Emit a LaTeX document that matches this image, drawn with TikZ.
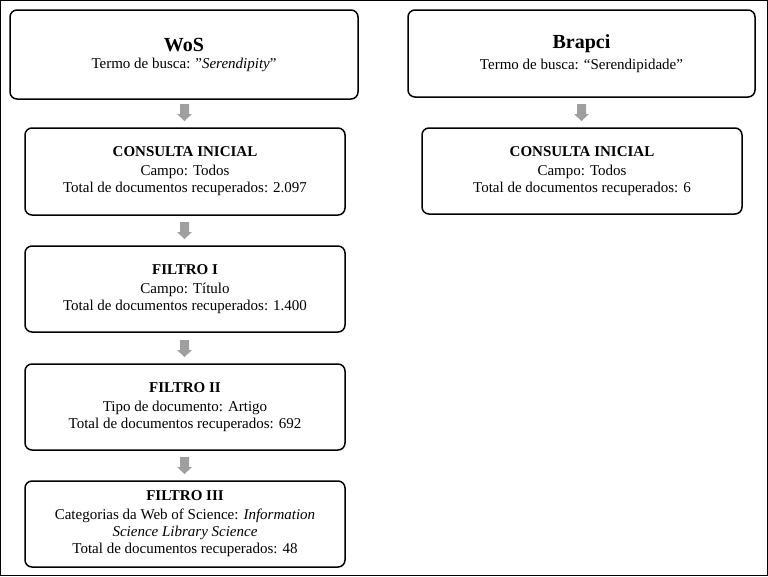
\documentclass[tikz,border=0pt]{standalone}
\usepackage{fontspec}
\setmainfont{Liberation Serif}
\begin{document}
\begin{tikzpicture}[x=1pt,y=-1pt,
 box/.style={draw=black,line width=1.5pt,rounded corners=7pt,align=center,font=\fontsize{15}{17}\selectfont,inner sep=0pt},
 garrow/.style={fill=gray!80,draw=none}]
\useasboundingbox (0,0) rectangle (768,576);
\draw[line width=1pt] (0.5,0.5) rectangle (767.5,575.5);
\newcommand{\garr}[2]{\fill[gray!75] (#1-4.5,#2) -- (#1+4.5,#2) -- (#1+4.5,#2+10) -- (#1+7.5,#2+10) -- (#1,#2+17) -- (#1-7.5,#2+10) -- (#1-4.5,#2+10) -- cycle;}
\node[box,minimum width=348pt,minimum height=89pt] (wos) at (184,54.5) {{\fontsize{20}{22}\selectfont\bfseries WoS}\\Termo de busca: "\textit{Serendipity}"};
\node[box,minimum width=347pt,minimum height=87pt] (bra) at (581.5,53.5) {{\fontsize{20}{24}\selectfont\bfseries Brapci}\\[4pt]Termo de busca: “Serendipidade”};
\node[box,minimum width=320pt,minimum height=87pt] (c1) at (185,171.5) {\textbf{CONSULTA INICIAL}\\[2pt]Campo: Todos\\Total de documentos recuperados: 2.097};
\node[box,minimum width=320pt,minimum height=86pt] (c2) at (582,171) {\textbf{CONSULTA INICIAL}\\[2pt]Campo: Todos\\Total de documentos recuperados: 6};
\node[box,minimum width=320pt,minimum height=86pt] (f1) at (185,289) {\textbf{FILTRO I}\\[2pt]Campo: Título\\Total de documentos recuperados: 1.400};
\node[box,minimum width=320pt,minimum height=86pt] (f2) at (185,407) {\textbf{FILTRO II}\\[2pt]Tipo de documento: Artigo\\Total de documentos recuperados: 692};
\node[box,minimum width=320pt,minimum height=86pt] (f3) at (185,524) {\textbf{FILTRO III}\\[2pt]Categorias da Web of Science: \textit{Information}\\\textit{Science Library Science}\\Total de documentos recuperados: 48};
\garr{184.5}{104}
\garr{581.5}{104}
\garr{184.5}{222}
\garr{184.5}{340}
\garr{184.5}{457}
\end{tikzpicture}
\end{document}
